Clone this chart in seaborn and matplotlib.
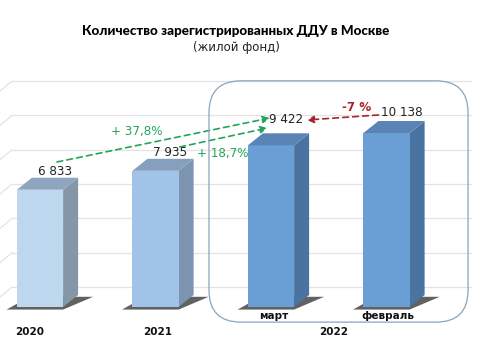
import matplotlib
matplotlib.use("Agg")
import matplotlib.pyplot as plt
from matplotlib.patches import Polygon, FancyBboxPatch
from matplotlib import font_manager
import seaborn as sns
import pandas as pd

# --- data ---------------------------------------------------------------
categories = ["2020", "2021", "март", "февраль"]
values = [6833, 7935, 9422, 10138]
axis_labels = ["2020", "2021", "март", "февраль"]
group_label = "2022"
change_labels = ["+ 37,8%", "+ 18,7%", "-7 %"]
title = "Количество зарегистрированных ДДУ в Москве"
subtitle = "(жилой фонд)"
grid_values = [0, 2000, 4000, 6000, 8000, 10000, 12000]

front_colors = ["#bdd7ef", "#a0c3e8", "#6a9fd6", "#6a9fd6"]
side_colors = ["#8696a9", "#7c94b0", "#4b73a1", "#4b73a1"]
top_colors = ["#8ea5bf", "#869fbd", "#5a84b6", "#5a84b6"]

sns.set_theme(style="white")
plt.rcParams["font.family"] = ["DejaVu Sans"]

names = {f.name for f in font_manager.fontManager.ttflist}
heavy_family = ["Lato", "DejaVu Sans"] if "Lato" in names else ["DejaVu Sans"]

df = pd.DataFrame({"cat": categories, "val": values})

fig = plt.figure(figsize=(4.8, 3.48), dpi=100)
ax = fig.add_axes([0, 0, 1, 1])

sns.barplot(data=df, x="cat", y="val", hue="cat", palette=front_colors,
            width=0.40, legend=False, ax=ax, zorder=4, saturation=1)

xmin, xmax = -0.3463, 3.8095
ymin, ymax = -2389, 17890
ax.set_xlim(xmin, xmax)
ax.set_ylim(ymin, ymax)
ax.axis("off")

# depth of the bars and of the back wall (data units)
dx, dy = 0.13, 700
wall_dy = 1165

# back wall grid with a short diagonal on the left side wall
for g in grid_values:
    y = g + wall_dy
    ax.plot([-0.242, 3.73], [y, y], color="#e3e3e3", lw=0.9, zorder=1)
    ax.plot([xmin, -0.242], [y - 583, y], color="#e3e3e3", lw=0.9, zorder=1)

# 3D faces and floor shadows
label_pad = [0, 0, 400, 120]
for i, p in enumerate(ax.patches[:len(values)]):
    x0 = p.get_x()
    x1 = x0 + p.get_width()
    h = p.get_height()
    p.set_edgecolor("none")
    shadow = Polygon([(x0 - 0.09, -150), (x1, -150), (x1 + dx + 0.13, dy * 0.85),
                      (x0 + dx - 0.02, dy * 0.85)], closed=True,
                     facecolor="#1e1e1e", alpha=0.7, edgecolor="none", zorder=2)
    ax.add_patch(shadow)
    side = Polygon([(x1, 0), (x1 + dx, dy), (x1 + dx, h + dy), (x1, h)], closed=True,
                   facecolor=side_colors[i], edgecolor="none", zorder=3)
    top = Polygon([(x0, h), (x1, h), (x1 + dx, h + dy), (x0 + dx, h + dy)], closed=True,
                  facecolor=top_colors[i], edgecolor="none", zorder=5)
    ax.add_patch(side)
    ax.add_patch(top)
    # value label above the back edge of the top face
    ax.text(i + dx, h + dy + label_pad[i], f"{values[i]:,}".replace(",", " "),
            ha="center", va="bottom", fontsize=9.5, fontstretch="condensed",
            color="#222222", zorder=6)

# category labels
label_y = [-1480, -1480, -500, -500]
label_x = [-0.09, 0.02, 0.02, 0.01]
for i, lab in enumerate(axis_labels):
    ax.text(i + label_x[i], label_y[i], lab, ha="center", va="center",
            fontsize=7.5, fontweight="bold", color="#111111")
ax.text(2.5 + 0.04, -1480, group_label, ha="center", va="center",
        fontsize=7.5, fontweight="bold", color="#111111")

# rounded frame around the 2022 bars
fig.canvas.draw()
(l, b) = ax.transData.transform((1.463, -880))
(r, t) = ax.transData.transform((3.706, 13180))
frame = FancyBboxPatch((l, b), r - l, t - b, boxstyle="round,pad=0,rounding_size=32",
                       transform=None, facecolor="none", edgecolor="#8aa4bb", lw=0.9,
                       zorder=7)
fig.patches.append(frame)

# growth arrows
green = "#23a55a"
red = "#a8262b"


def arrow(x0, y0, x1, y1, color):
    ax.annotate("", xy=(x1, y1), xytext=(x0, y0),
                arrowprops=dict(arrowstyle="-|>,head_length=0.35,head_width=0.18",
                                color=color, lw=1.2, linestyle=(0, (3.5, 2.5)),
                                shrinkA=0, shrinkB=0), zorder=8)


arrow(0.147, values[0] + 1617, 1.99, values[2] + 1592, green)
arrow(1.21, values[1] + 1389, 1.97, values[2] + 1009, green)
arrow(2.93, values[3] + 1051, 2.31, values[2] + 1475, red)

ax.text(0.84, 10256, change_labels[0], ha="center", va="center",
        fontsize=9.5, fontstretch="condensed", color=green, zorder=8)
ax.text(1.58, 8974, change_labels[1], ha="center", va="center",
        fontsize=9.5, fontstretch="condensed", color=green, zorder=8)
ax.text(2.74, 11597, change_labels[2], ha="center", va="center", fontsize=9.5,
        fontstretch="condensed", color=red, fontweight="bold", zorder=8)

# titles
fig.text(236 / 480, 1 - 31 / 348, title, ha="center", va="center",
         fontsize=9.7, fontweight="black", family=heavy_family, color="#000000")
fig.text(236 / 480, 1 - 47 / 348, subtitle, ha="center", va="center",
         fontsize=8.5, color="#222222")

fig.savefig("out.png", dpi=100)
